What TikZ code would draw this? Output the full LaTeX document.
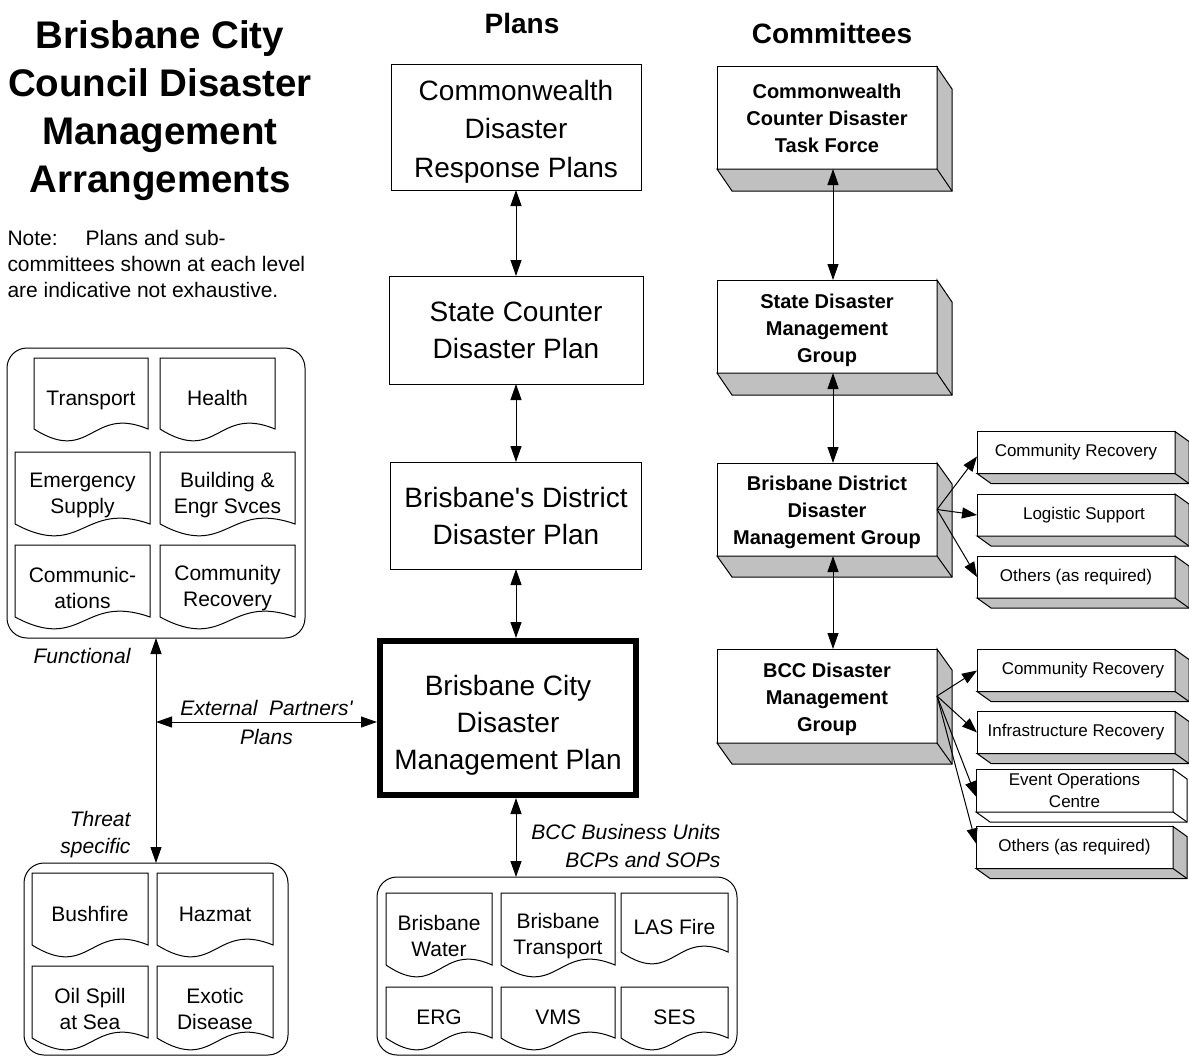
\documentclass[tikz,border=0pt]{standalone}
\usepackage{fontspec}
\setmainfont{Liberation Sans}
\usetikzlibrary{arrows.meta}
\definecolor{slabgray}{HTML}{C0C0C0}
\newcommand{\docoutline}[1]{%
  \draw ([yshift=7pt]#1.south west) -- ([yshift=7pt]#1.north west) -- ([yshift=7pt]#1.north east) -- ([yshift=7pt]#1.south east)
    .. controls ([yshift=31pt]#1.south) and ([yshift=-29pt]#1.south) .. ([yshift=7pt]#1.south west);}
\newcommand{\slab}[4]{%
  \draw[fill=#4] (#1.south west) -- ([shift={(#2pt,-#3pt)}]#1.south west)
    -- ([shift={(#2pt,-#3pt)}]#1.south east) -- ([shift={(#2pt,-#3pt)}]#1.north east)
    -- (#1.north east) -- (#1.south east) -- cycle;
  \draw (#1.south east) -- ([shift={(#2pt,-#3pt)}]#1.south east);}
\begin{document}
\begin{tikzpicture}[x=1pt,y=-1pt,line width=1pt,>={Triangle[length=16pt,width=11pt]}]
	\tikzstyle{planbox}=[draw,rectangle,outer sep=0pt,inner sep=2pt,align=center,font=\fontsize{28}{37}\selectfont]
	\tikzstyle{combox}=[draw,fill=white,outer sep=0pt,inner sep=2pt,align=center,minimum width=220,font=\bfseries\fontsize{20}{27}\selectfont]
	\tikzstyle{subbox}=[draw,fill=white,outer sep=0pt,inner sep=1pt,align=center,minimum width=198,minimum height=42,font=\fontsize{17}{22}\selectfont]
	\tikzstyle{docnode}=[outer sep=0pt,inner sep=0pt,align=center,font=\fontsize{21}{26}\selectfont]
	\tikzstyle{groupbox}=[draw,rounded corners=20pt,outer sep=0pt]
	\tikzstyle{notetext}=[inner sep=0pt,font=\itshape\fontsize{21}{28}\selectfont,align=center]
	\tikzstyle{twoway}=[<->]
	\tikzstyle{oneway}=[->,>={Triangle[length=15pt,width=11pt]}]
	\useasboundingbox (0,0) rectangle (1189,1057);
	\node[font=\bfseries\fontsize{38.5}{48}\selectfont,align=center] (title) at (160,111) {Brisbane City\\Council Disaster\\Management\\Arrangements};
	\node[font=\fontsize{21}{26}\selectfont,align=left,anchor=west,inner sep=0pt] (note) at (7,264) {Note:\hspace{28pt}Plans and sub-\\committees shown at each level\\are indicative not exhaustive.};
	\node[font=\bfseries\fontsize{28}{34}\selectfont] (h_plans) at (522,23) {Plans};
	\node[font=\bfseries\fontsize{28}{34}\selectfont] (h_com) at (832,33) {Committees};
	\node[planbox,minimum width=250,minimum height=125,font=\fontsize{28}{38.5}\selectfont] (plan_1) at (516,127.5) {\rule{0pt}{28.5pt}Commonwealth\\Disaster\\Response Plans};
	\node[planbox,minimum width=254,minimum height=108] (plan_2) at (516,330) {State Counter\\Disaster Plan};
	\node[planbox,minimum width=251,minimum height=107] (plan_3) at (516,515.5) {Brisbane\textquotesingle s District\\Disaster Plan};
	\node[planbox,line width=6pt,outer sep=3pt,minimum width=256,minimum height=154] (plan_4) at (508,718) {\rule{0pt}{34pt}Brisbane City\\Disaster\\Management Plan};
	\node[groupbox,minimum width=298,minimum height=290] (func) at (156,493) {};
	\node[groupbox,minimum width=264,minimum height=192] (threat) at (156,959) {};
	\node[groupbox,minimum width=360,minimum height=178] (bcp) at (557,966) {};
	\node[docnode,minimum width=114,minimum height=71] (d_1) at (91,400.5) {\strut Transport};
	\node[docnode,minimum width=115,minimum height=71] (d_2) at (217.5,400.5) {\strut Health};
	\node[docnode,minimum width=135,minimum height=72] (d_3) at (82.5,495) {Emergency\\Supply};
	\node[docnode,minimum width=135,minimum height=72] (d_4) at (227.5,495) {Building \&\\Engr Svces};
	\node[docnode,minimum width=135,minimum height=72] (d_5) at (82.5,588) {Communic-\\ations};
	\node[docnode,minimum width=135,minimum height=72] (d_6) at (227.5,588) {Community\\Recovery};
	\node[docnode,minimum width=116,minimum height=72] (d_7) at (90,916) {\strut Bushfire};
	\node[docnode,minimum width=116,minimum height=72] (d_8) at (215,916) {\strut Hazmat};
	\node[docnode,minimum width=116,minimum height=72] (d_9) at (90,1009) {Oil Spill\\at Sea};
	\node[docnode,minimum width=116,minimum height=72] (d_10) at (215,1009) {Exotic\\Disease};
	\node[docnode,minimum width=106,minimum height=72] (d_11) at (439,936) {Brisbane\\Water};
	\node[docnode,minimum width=114,minimum height=72] (d_12) at (558,936) {Brisbane\\Transport};
	\node[docnode,minimum width=107,minimum height=59] (d_13) at (674.5,929.5) {\strut LAS Fire};
	\node[docnode,minimum width=106,minimum height=51] (d_14) at (439,1019.5) {\strut ERG};
	\node[docnode,minimum width=114,minimum height=51] (d_15) at (558,1019.5) {\strut VMS};
	\node[docnode,minimum width=107,minimum height=51] (d_16) at (674.5,1019.5) {\strut SES};
	\docoutline{d_1} \docoutline{d_2} \docoutline{d_3} \docoutline{d_4}
	\docoutline{d_5} \docoutline{d_6} \docoutline{d_7} \docoutline{d_8}
	\docoutline{d_9} \docoutline{d_10} \docoutline{d_11} \docoutline{d_12}
	\docoutline{d_13} \docoutline{d_14} \docoutline{d_15} \docoutline{d_16}
	\node[combox,minimum height=102] (com_1) at (827,118) {Commonwealth\\Counter Disaster\\Task Force};
	\node[combox,minimum height=93] (com_2) at (827,326.5) {\rule{0pt}{22pt}State Disaster\\Management\\Group};
	\node[combox,minimum height=93] (com_3) at (827,509.5) {\rule{0pt}{21pt}Brisbane District\\Disaster\\Management Group};
	\node[combox,minimum height=94] (com_4) at (827,696) {\rule{0pt}{21pt}BCC Disaster\\Management\\Group};
	\slab{com_1}{15}{22}{slabgray} \slab{com_2}{15}{22}{slabgray}
	\slab{com_3}{15}{21}{slabgray} \slab{com_4}{15}{21}{slabgray}
	\node[subbox] (sub_1) at (1076,452.5) {Community Recovery};
	\node[subbox] (sub_2) at (1076,515) {\hspace{16pt}Logistic Support};
	\node[subbox] (sub_3) at (1076,577) {Others (as required)};
	\node[subbox] (sub_4) at (1076,670.5) {\hspace{14pt}Community Recovery};
	\node[subbox] (sub_5) at (1076,732.5) {Infrastructure Recovery};
	\node[subbox,minimum width=197,minimum height=43] (sub_6) at (1074.5,790.5) {Event Operations\\Centre};
	\node[subbox,minimum width=197] (sub_7) at (1074.5,847.5) {Others (as required)};
	\slab{sub_1}{14}{10}{slabgray} \slab{sub_2}{14}{10}{slabgray}
	\slab{sub_3}{14}{10}{slabgray} \slab{sub_4}{14}{10}{slabgray}
	\slab{sub_5}{14}{10}{slabgray} \slab{sub_6}{14}{10}{white}
	\slab{sub_7}{14}{10}{slabgray}
	\draw[twoway] (plan_1.south) -- (plan_2.north);
	\draw[twoway] (plan_2.south) -- (plan_3.north);
	\draw[twoway] (plan_3.south) -- (plan_3.south |- plan_4.north);
	\draw[twoway] (plan_3.south |- plan_4.south) -- (plan_3.south |- bcp.north);
	\draw[twoway] ([xshift=6pt]com_1.south) -- ([xshift=6pt]com_2.north);
	\draw[twoway] ([xshift=6pt]com_2.south) -- ([xshift=6pt]com_3.north);
	\draw[twoway] ([xshift=6pt]com_3.south) -- ([xshift=6pt]com_4.north);
	\draw[oneway] (com_3.east) -- ([yshift=-4pt]sub_1.west);
	\draw[oneway] (com_3.east) -- (sub_2.west);
	\draw[oneway] (com_3.east) -- (sub_3.west);
	\draw[oneway] (com_4.east) -- (sub_4.west);
	\draw[oneway] (com_4.east) -- (sub_5.west);
	\draw[oneway] (com_4.east) -- ([yshift=-6pt]sub_6.west);
	\draw[oneway] (com_4.east) -- ([yshift=4pt]sub_7.west);
	\coordinate (junction) at (156,722);
	\draw[twoway] (func.south) -- (threat.north);
	\draw[twoway] (junction) -- node[notetext,font=\itshape\fontsize{21}{29}\selectfont] (lab_ext) {External\ \ Partners\textquotesingle\\Plans} (junction -| plan_4.west);
	\node[notetext] (lab_func) at (82,656) {Functional};
	\node[notetext,align=right,anchor=east,font=\itshape\fontsize{21}{27}\selectfont] (lab_threat) at (131,835) {Threat\\specific};
	\node[notetext,align=right,anchor=east] (lab_bcp) at (721,846) {BCC Business Units\\BCPs and SOPs};
\end{tikzpicture}
\end{document}
